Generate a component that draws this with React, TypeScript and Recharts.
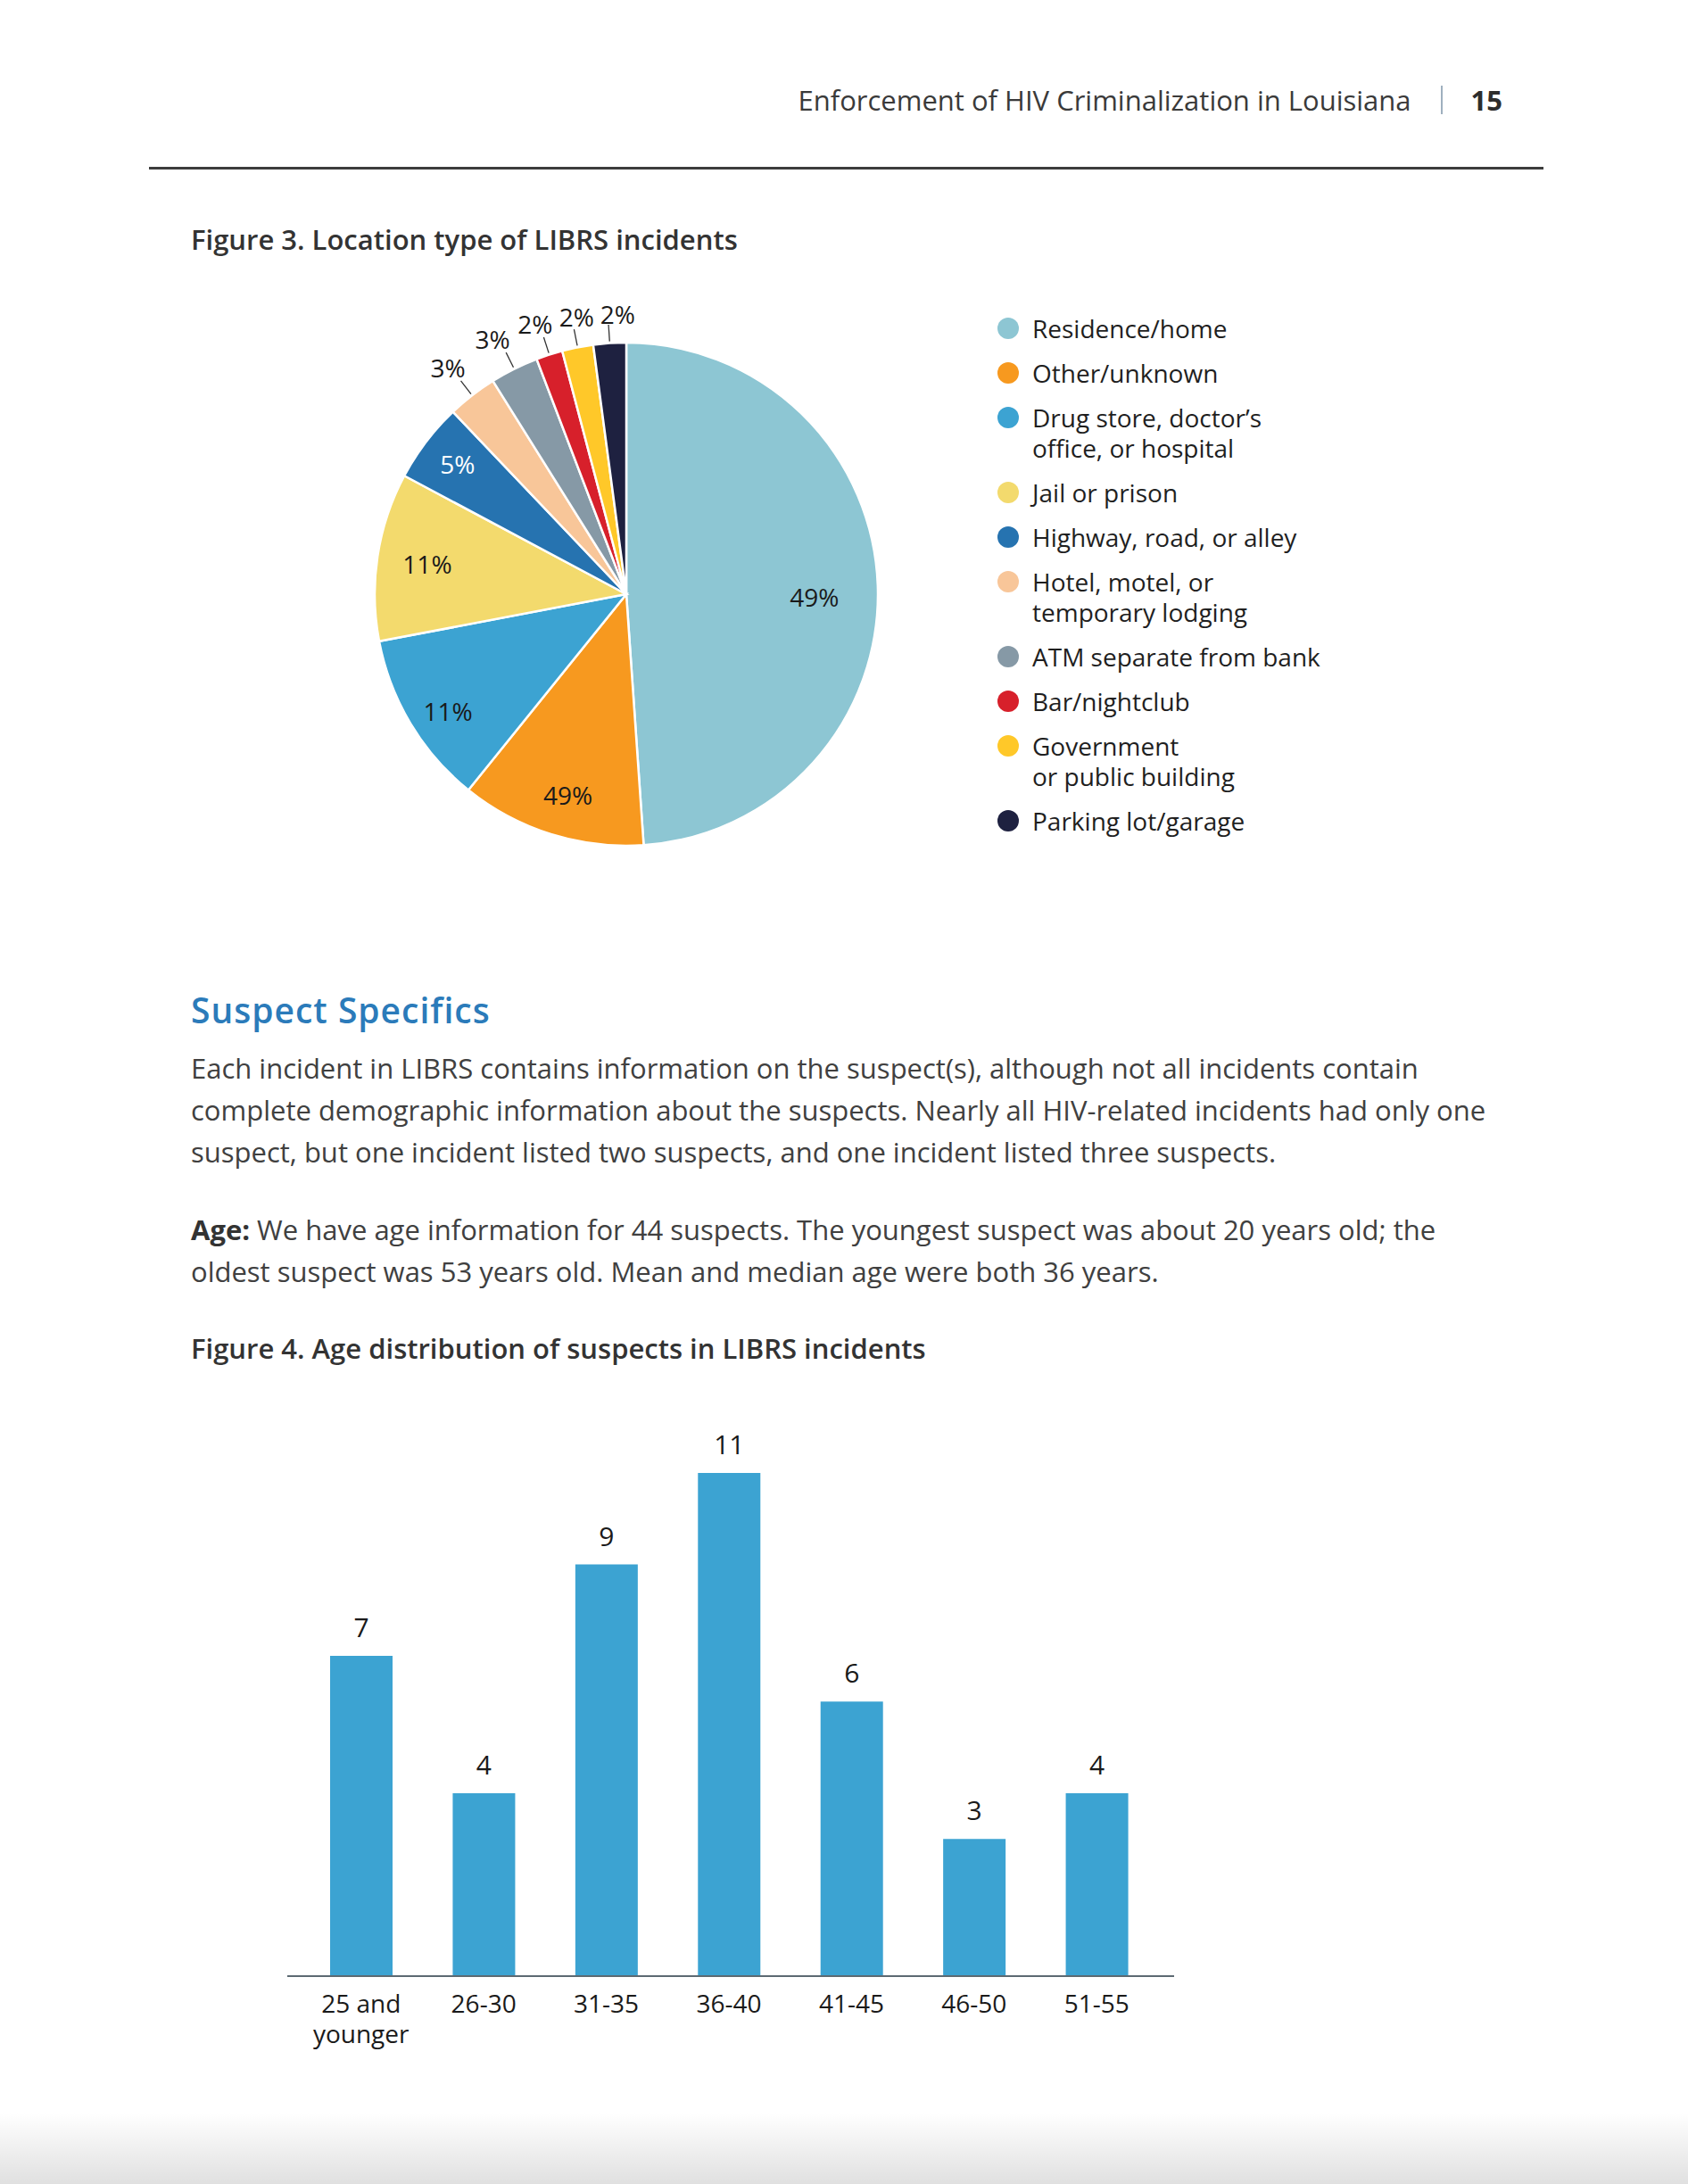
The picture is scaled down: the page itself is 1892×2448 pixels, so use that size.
import React from 'react';
import { PieChart, Pie, Cell, Legend, BarChart, Bar, XAxis, YAxis, LabelList } from 'recharts';

// ---------- data ----------
const headerTitle = 'Enforcement of HIV Criminalization in Louisiana';
const pageNumber = '15';
const fig3Title = 'Figure 3. Location type of LIBRS incidents';
const fig4Title = 'Figure 4. Age distribution of suspects in LIBRS incidents';
const sectionTitle = 'Suspect Specifics';
const para1Lines = [
  'Each incident in LIBRS contains information on the suspect(s), although not all incidents contain',
  'complete demographic information about the suspects. Nearly all HIV-related incidents had only one',
  'suspect, but one incident listed two suspects, and one incident listed three suspects.',
];
const para2Lead = 'Age:';
const para2Lines = [
  ' We have age information for 44 suspects. The youngest suspect was about 20 years old; the',
  'oldest suspect was 53 years old. Mean and median age were both 36 years.',
];

const locationNames = [
  'Residence/home',
  'Other/unknown',
  'Drug store, doctor\u2019s\noffice, or hospital',
  'Jail or prison',
  'Highway, road, or alley',
  'Hotel, motel, or\ntemporary lodging',
  'ATM separate from bank',
  'Bar/nightclub',
  'Government\nor public building',
  'Parking lot/garage',
];
const locationShares = [48.9, 11.9, 11.2, 10.8, 5.1, 3.2, 3.1, 1.7, 2.0, 2.1];
const locationLabels = ['49%', '49%', '11%', '11%', '5%', '3%', '3%', '2%', '2%', '2%'];
const locationColors = [
  '#8DC6D3', '#F7991F', '#3CA3D2', '#F3DA6D', '#2673B0',
  '#F8C699', '#8699A6', '#D7202B', '#FFC829', '#1E2140',
];

const ageGroups = ['25 and\nyounger', '26-30', '31-35', '36-40', '41-45', '46-50', '51-55'];
const ageCounts = [7, 4, 9, 11, 6, 3, 4];

// ---------- derived tables ----------
const pieData = locationNames.map((name, i) => ({ name, value: locationShares[i], label: locationLabels[i] }));
const barData = ageGroups.map((group, i) => ({ group, count: ageCounts[i] }));

// ---------- styles ----------
const FONT = '"Open Sans", "Noto Sans", sans-serif';
const RAD = Math.PI / 180;
const INSIDE_COUNT = 5;
// label placement styling (radius as fraction of outer radius, clockwise angle nudge in degrees)
const LABEL_RADIUS = [0.748, 0.83, 0.848, 0.8, 0.848, 1.147, 1.145, 1.134, 1.121, 1.114];
const LABEL_NUDGE = [2.8, -1.2, -2.3, 0, 0.5, -0.4, -1.2, -0.8, 1.0, 2.0];

const renderPieLabel = (props: any) => {
  const { cx, cy, midAngle, outerRadius, index } = props;
  const a0 = -midAngle * RAD;
  const a = -(midAngle - LABEL_NUDGE[index]) * RAD;
  const r = outerRadius * LABEL_RADIUS[index];
  const text = (
    <text
      x={cx + r * Math.cos(a)}
      y={cy + r * Math.sin(a)}
      textAnchor="middle"
      dominantBaseline="central"
      fontSize={28}
      fontFamily={FONT}
      fill={index === 4 ? '#ffffff' : '#1a1a1a'}
    >
      {pieData[index].label}
    </text>
  );
  if (index < INSIDE_COUNT) return text;
  const r1 = outerRadius + 2;
  const r2 = outerRadius * 1.073;
  return (
    <g>
      <line
        x1={cx + r1 * Math.cos(a0)}
        y1={cy + r1 * Math.sin(a0)}
        x2={cx + r2 * Math.cos(a0)}
        y2={cy + r2 * Math.sin(a0)}
        stroke="#333"
        strokeWidth={1.3}
      />
      {text}
    </g>
  );
};

const LegendContent = () => (
  <div style={{ fontFamily: FONT, fontSize: 28, color: '#1f1f1f' }}>
    {pieData.map((d, i) => (
      <div key={d.name} style={{ display: 'flex', alignItems: 'flex-start', marginBottom: 16 }}>
        <span
          style={{
            width: 24,
            height: 24,
            borderRadius: 12,
            background: locationColors[i],
            marginTop: 5,
            marginRight: 15,
            flex: '0 0 auto',
          }}
        />
        <div style={{ lineHeight: '34px', whiteSpace: 'nowrap' }}>
          {d.name.split('\n').map((l) => (
            <div key={l}>{l}</div>
          ))}
        </div>
      </div>
    ))}
  </div>
);

const AgeTick = (props: any) => {
  const { x, y, payload } = props;
  const lines = String(payload.value).split('\n');
  return (
    <text x={x} y={y} textAnchor="middle" fontSize={28} fontFamily={FONT} fill="#1a1a1a">
      {lines.map((l, i) => (
        <tspan key={i} x={x} dy={i === 0 ? 20 : 34}>
          {l}
        </tspan>
      ))}
    </text>
  );
};

const abs = (left: number, top: number, extra: React.CSSProperties = {}): React.CSSProperties => ({
  position: 'absolute',
  left,
  top,
  ...extra,
});

export default function App() {
  return (
    <div
      style={{
        position: 'absolute',
        left: 0,
        top: 0,
        width: 1892,
        height: 2448,
        background: '#ffffff',
        overflow: 'hidden',
        fontFamily: FONT,
      }}
    >
      {/* header */}
      <div
        style={abs(0, 90, {
          width: 1684,
          display: 'flex',
          justifyContent: 'flex-end',
          alignItems: 'center',
          height: 44,
          fontSize: 31,
          color: '#3a3a3a',
          whiteSpace: 'nowrap',
        })}
      >
        <span>{headerTitle}</span>
        <span style={{ width: 2, height: 32, background: '#9fb0bf', margin: '0 32px 0 33px' }} />
        <span style={{ fontWeight: 700, color: '#2d2d2d' }}>{pageNumber}</span>
      </div>
      <div style={abs(167, 187, { width: 1563, height: 3, background: '#3d3d3d' })} />

      {/* figure 3 title */}
      <div style={abs(214, 248, { fontSize: 31, fontWeight: 600, color: '#333333', lineHeight: '40px', whiteSpace: 'nowrap' })}>
        {fig3Title}
      </div>

      {/* pie chart */}
      <div style={abs(380, 320)}>
        <PieChart width={1220} height={660} margin={{ top: 0, right: 0, bottom: 0, left: 0 }}>
          <Pie
            data={pieData}
            dataKey="value"
            nameKey="name"
            cx={322}
            cy={346}
            outerRadius={282}
            startAngle={90}
            endAngle={-270}
            stroke="#ffffff"
            strokeWidth={2.5}
            label={renderPieLabel}
            labelLine={false}
            isAnimationActive={false}
          >
            {pieData.map((d, i) => (
              <Cell key={d.name} fill={locationColors[i]} />
            ))}
          </Pie>
          <Legend
            layout="vertical"
            content={<LegendContent />}
            wrapperStyle={{ position: 'absolute', left: 738, top: 31, width: 460, bottom: 'auto', right: 'auto' }}
          />
        </PieChart>
      </div>

      {/* section heading */}
      <div style={abs(214, 1108, { fontSize: 39, fontWeight: 600, color: '#2B7BBA', letterSpacing: 1, lineHeight: '48px', whiteSpace: 'nowrap' })}>
        {sectionTitle}
      </div>

      {/* paragraph 1 */}
      <div style={abs(214, 1174, { fontSize: 31, color: '#404040', lineHeight: '47px', whiteSpace: 'nowrap' })}>
        {para1Lines.map((l) => (
          <div key={l}>{l}</div>
        ))}
      </div>

      {/* paragraph 2 */}
      <div style={abs(214, 1355, { fontSize: 31, color: '#404040', lineHeight: '47px', whiteSpace: 'nowrap' })}>
        <div>
          <span style={{ fontWeight: 700, color: '#333' }}>{para2Lead}</span>
          {para2Lines[0]}
        </div>
        <div>{para2Lines[1]}</div>
      </div>

      {/* figure 4 title */}
      <div style={abs(214, 1491, { fontSize: 31, fontWeight: 600, color: '#333333', lineHeight: '40px', whiteSpace: 'nowrap' })}>
        {fig4Title}
      </div>

      {/* bar chart */}
      <div style={abs(300, 1560)}>
        <BarChart width={1100} height={760} data={barData} margin={{ top: 91, right: 84, bottom: 75, left: 22 }}>
          <XAxis
            dataKey="group"
            interval={0}
            tickLine={false}
            tickSize={0}
            tickMargin={21}
            axisLine={{ stroke: '#5d6a72', strokeWidth: 2 }}
            tick={<AgeTick />}
            padding={{ left: 14, right: 18 }}
            height={30}
          />
          <YAxis hide domain={[0, 11]} />
          <Bar dataKey="count" fill="#3CA3D2" barSize={70} isAnimationActive={false}>
            <LabelList dataKey="count" position="top" offset={21} fontSize={30} fontFamily={FONT} fill="#1a1a1a" />
          </Bar>
        </BarChart>
      </div>

      {/* page bottom shade */}
      <div
        style={abs(0, 2368, {
          width: 1892,
          height: 80,
          background: 'linear-gradient(to bottom, rgba(0,0,0,0), rgba(0,0,0,0.12))',
        })}
      />
    </div>
  );
}
